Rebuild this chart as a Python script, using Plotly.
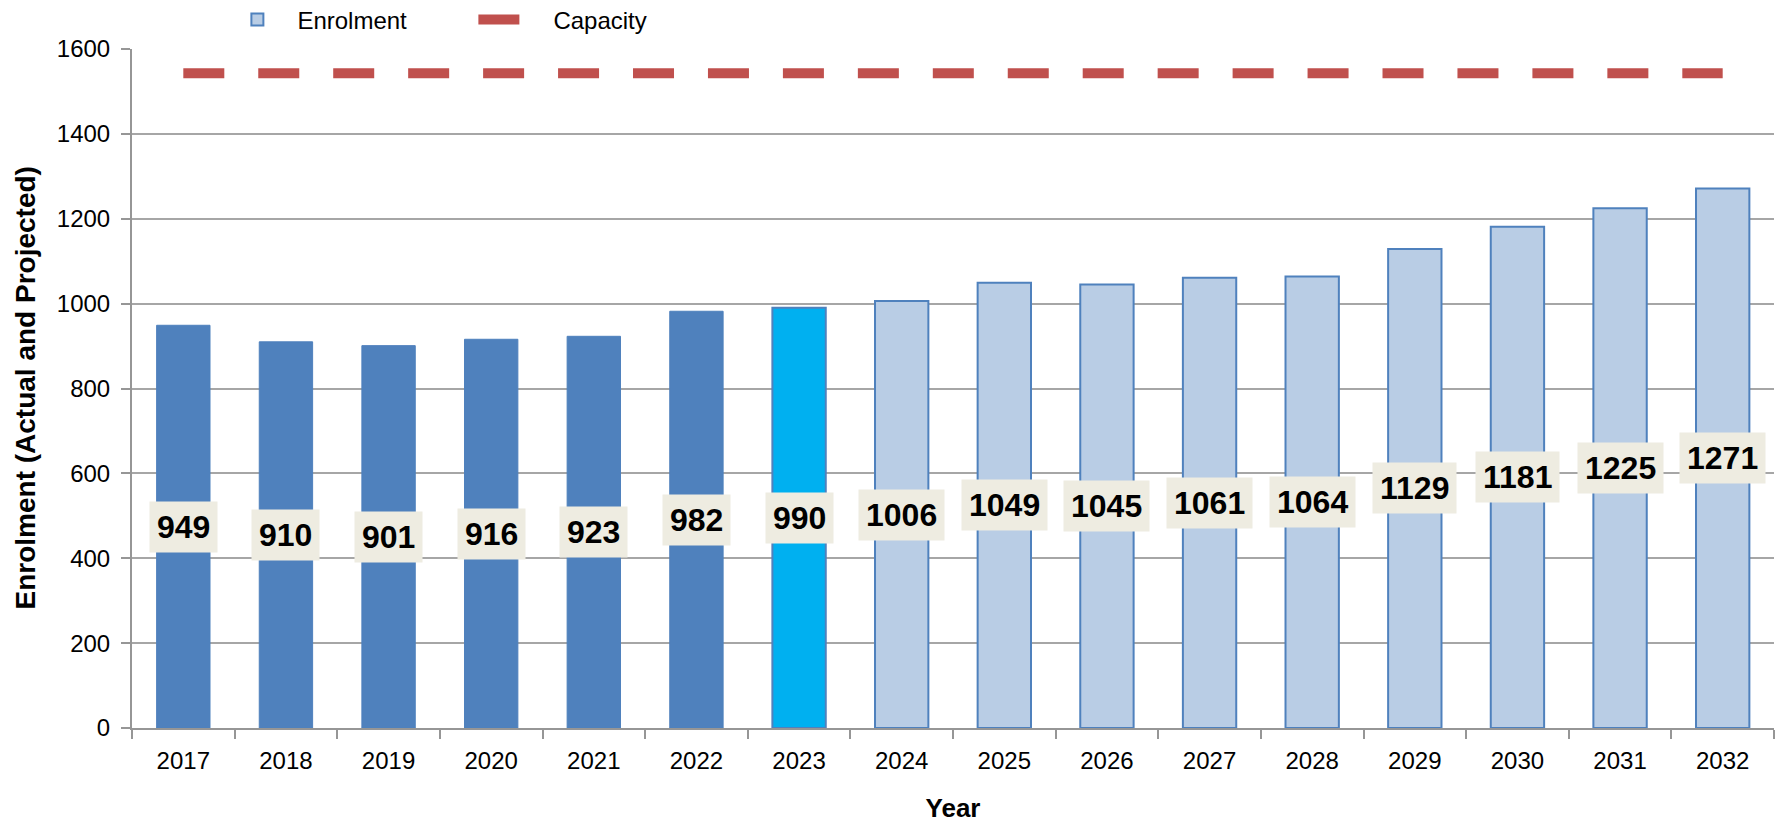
import plotly.graph_objects as go

years = ["2017", "2018", "2019", "2020", "2021", "2022", "2023", "2024",
         "2025", "2026", "2027", "2028", "2029", "2030", "2031", "2032"]
enrolment = [949, 910, 901, 916, 923, 982, 990, 1006, 1049, 1045, 1061, 1064, 1129, 1181, 1225, 1271]
capacity = [1543] * 16
actual_years = years[:6]
current_years = years[6:7]
projected_years = years[7:]

FONT = "Liberation Sans"
actual_vals = enrolment[:6]
current_vals = enrolment[6:7]
projected_vals = enrolment[7:]

fig = go.Figure()
fig.add_trace(go.Bar(x=projected_years, y=projected_vals, name="Enrolment",
                     marker=dict(color="#B9CDE5", line=dict(color="#4F81BD", width=2)),
                     width=0.52, showlegend=True))
fig.add_trace(go.Bar(x=actual_years, y=actual_vals, name="Actual",
                     marker=dict(color="#4F81BD", line=dict(color="#4F81BD", width=1)),
                     width=0.52, showlegend=False))
fig.add_trace(go.Bar(x=current_years, y=current_vals, name="Current",
                     marker=dict(color="#00B0F0", line=dict(color="#4F81BD", width=2)),
                     width=0.52, showlegend=False))
fig.add_trace(go.Scatter(x=years, y=capacity, name="Capacity", mode="lines",
                         line=dict(color="#C0504D", width=10, dash="41px,33.95px")))

# annotations on a category axis take the category index
for i, v in enumerate(enrolment):
    fig.add_annotation(x=i, y=v / 2, xref="x", yref="y", text=f"<b>{v}</b>", showarrow=False,
                       bgcolor="#EEECE1", borderpad=7,
                       font=dict(family=FONT, size=32, color="black"))

# y-axis title
fig.add_annotation(x=-107 / 1642, y=0.5, xref="paper", yref="paper",
                   text="<b>Enrolment (Actual and Projected)</b>", textangle=-90,
                   showarrow=False, xanchor="center", yanchor="middle",
                   font=dict(family=FONT, size=28, color="black"))

fig.update_layout(
    width=1785, height=821,
    paper_bgcolor="white", plot_bgcolor="white",
    barmode="overlay",
    margin=dict(l=124, r=19, t=41, b=101, autoexpand=False),
    font=dict(family=FONT, size=24, color="black"),
    legend=dict(orientation="h", x=0.052, y=1.043, xanchor="left", yanchor="middle",
                font=dict(size=24), itemwidth=70, entrywidth=171, entrywidthmode="pixels",
                traceorder="normal", bgcolor="rgba(0,0,0,0)"),
    xaxis=dict(type="category", categoryorder="array", categoryarray=years,
               range=[-0.5, len(years) - 0.5],
               showgrid=False, showline=True, linecolor="#969696", linewidth=2,
               ticks="outside", tickson="boundaries", ticklen=9, tickcolor="#969696",
               tickwidth=2, tickfont=dict(size=24), tickangle=0, ticklabelstandoff=10,
               title=dict(text="<b>Year</b>", font=dict(size=26), standoff=26)),
    yaxis=dict(range=[0, 1600], dtick=200, showgrid=True, gridcolor="#A6A6A6", gridwidth=2,
               showline=True, linecolor="#969696", linewidth=2,
               ticks="outside", ticklen=9, tickcolor="#969696", tickwidth=2,
               tickfont=dict(size=24), zeroline=False, ticklabelstandoff=6),
)

fig.write_html("out.html")
